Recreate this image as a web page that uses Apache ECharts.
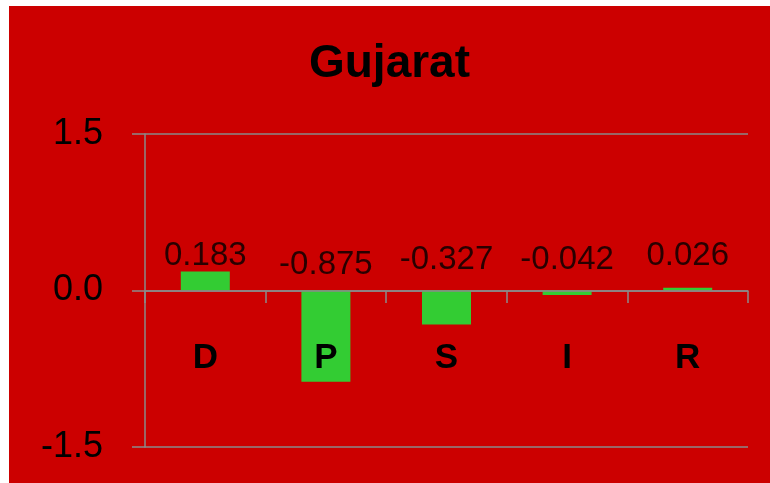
<!DOCTYPE html>
<html>
<head>
<meta charset="utf-8">
<script src="https://cdn.jsdelivr.net/npm/echarts@6/dist/echarts.min.js"></script>
<style>
  html, body { margin: 0; padding: 0; background: #ffffff; }
  #chart { position: absolute; left: 9px; top: 6px; width: 761px; height: 477px; }
</style>
</head>
<body>
<div id="chart"></div>
<script>
// chart data
var categories = ['D', 'P', 'S', 'I', 'R']
var values = [0.183, -0.875, -0.327, -0.042, 0.026]
var yTicks = [-1.5, 0, 1.5]

// label lift above zero line (style only)
var labelLift = [18, 9, 14, 14, 18]

var grey = '#8a8a8a'
var font = 'Liberation Sans'

var chart = echarts.init(document.getElementById('chart'))
var option = {
  backgroundColor: '#cc0000',
  animation: false,
  title: {
    text: 'Gujarat',
    left: 'center',
    top: 30,
    textStyle: {
      fontFamily: font,
      fontWeight: 'bold',
      fontSize: 46,
      color: '#000'
    }
  },
  grid: {
    left: 136,
    right: 22,
    top: 128,
    bottom: 36,
    containLabel: false,
    outerBoundsMode: 'none'
  },
  xAxis: {
    type: 'category',
    data: categories,
    position: 'bottom',
    // axis drawn through the zero line (plot is symmetric, so half its height up)
    offset: -156,
    z: 5,
    axisLine: { onZero: false, lineStyle: { color: grey, width: 1.5 } },
    axisTick: { show: true, length: 12, lineStyle: { color: grey, width: 1.5 } },
    axisLabel: {
      margin: 50,
      fontFamily: font,
      fontWeight: 'bold',
      fontSize: 35,
      color: '#000'
    }
  },
  yAxis: {
    type: 'value',
    min: yTicks[0],
    max: yTicks[yTicks.length - 1],
    interval: yTicks[1] - yTicks[0],
    axisLine: { show: true, lineStyle: { color: grey, width: 1.5 } },
    axisTick: { show: true, length: 13, lineStyle: { color: grey, width: 1.5 } },
    splitLine: { show: true, lineStyle: { color: grey, width: 1.5 } },
    axisLabel: {
      margin: 42,
      fontFamily: font,
      fontSize: 36,
      color: '#000',
      formatter: function (v) { return v.toFixed(1) }
    }
  },
  series: [
    {
      type: 'bar',
      data: values,
      barWidth: 49,
      itemStyle: { color: '#33cc33' },
      z: 1
    },
    {
      // value labels sit just above the zero line
      type: 'scatter',
      symbolSize: 0,
      silent: true,
      data: values.map(function (v, i) {
        return {
          value: 0,
          label: {
            show: true,
            position: 'top',
            distance: labelLift[i],
            formatter: v.toFixed(3),
            fontFamily: font,
            fontSize: 33,
            color: '#000'
          }
        }
      })
    }
  ]
}
chart.setOption(option)
</script>
</body>
</html>
